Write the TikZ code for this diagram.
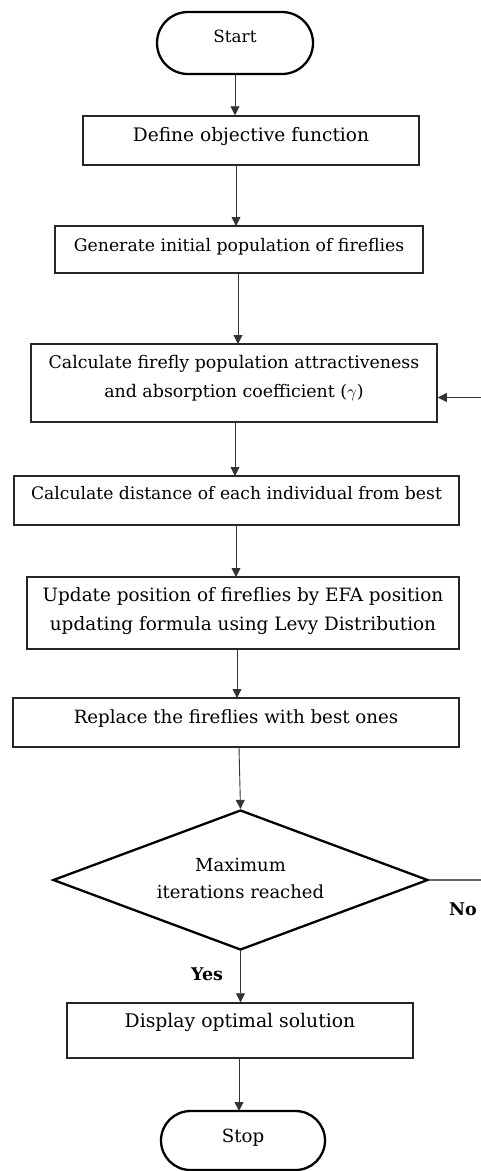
\documentclass[tikz,border=0pt]{standalone}
\usepackage{fontspec}
\setmainfont{DejaVu Serif}
\usetikzlibrary{shapes.geometric,shapes.misc,arrows.meta}
\tikzset{
  fsz/.style={font=\fontsize{#1}{28.5}\selectfont},
  box/.style={draw=black!85, line width=1.5pt, rectangle, inner sep=0pt, align=center, text height=13pt},
  frame/.style={draw=black!85, line width=1.5pt, rectangle, inner sep=0pt},
  txt/.style={inner sep=0pt, align=center},
  up/.style={text depth=#1},
  term/.style={draw=black, line width=2.3pt, rounded rectangle, inner sep=0pt, text height=13pt},
  dec/.style={draw=black, line width=2.3pt, diamond, inner sep=0pt},
  arr/.style={draw=black!80, line width=0.9pt, -{Triangle[length=9pt,width=9pt]}},
  plain/.style={draw=black!60, line width=1.2pt},
  lab/.style={font=\fontsize{17.5}{20}\selectfont\bfseries, inner sep=0pt}
}
\begin{document}
\begin{tikzpicture}[x=1pt,y=-1pt]
\useasboundingbox (0,0) rectangle (480,1171);
\node[term, fsz=16.8, up=14.8pt, minimum width=156pt, minimum height=62pt] (start) at (235,43) {Start};
\node[box, fsz=18.6, up=11.8pt, minimum width=336pt, minimum height=49pt] (define) at (251,140.5) {Define objective function};
\node[box, fsz=17.3, up=9.8pt, minimum width=368pt, minimum height=47pt] (gen) at (239,249.5) {Generate initial population of fireflies};
\node[frame, minimum width=406pt, minimum height=78pt] (calc) at (234,383) {};
\node[txt, fsz=17.4] (calcT) at (234,378.4) {Calculate firefly population attractiveness\\and absorption coefficient ($\gamma$)};
\node[box, fsz=17.2, up=15.8pt, minimum width=445pt, minimum height=49pt] (dist) at (236.5,500.5) {Calculate distance of each individual from best};
\node[frame, minimum width=432pt, minimum height=72pt] (upd) at (243,613) {};
\node[txt, fsz=18.4] (updT) at (243,611) {Update position of fireflies by EFA position\\updating formula using Levy Distribution};
\node[box, fsz=18.2, up=10.8pt, minimum width=446pt, minimum height=49pt] (repl) at (236,722.5) {Replace the fireflies with best ones};
\node[dec, minimum width=375pt, minimum height=140pt] (maxit) at (240.5,880) {};
\node[txt, font=\fontsize{18}{27}\selectfont] (maxitT) at (240.5,878) {Maximum\\iterations reached};
\node[box, fsz=18.8, up=19.8pt, minimum width=346pt, minimum height=55pt] (disp) at (240,1030.5) {Display optimal solution};
\node[term, fsz=18.2, up=9.8pt, minimum width=164pt, minimum height=59pt] (stop) at (243,1140.5) {Stop};
\node[lab] (yes) at (207,974) {Yes};
\node[lab] (no) at (463,909) {No};
\coordinate (noR) at (481,880);
\coordinate (fbR) at (481,397.5);
\draw[arr] (start.south) -- (start.south |- define.north);
\draw[arr] (236,165) -- (236,226);
\draw[arr] (238,273) -- (238,344);
\draw[arr] (235,422) -- (235,476);
\draw[arr] (236,525) -- (236,577);
\draw[arr] (237,649) -- (237,698);
\draw[arr] (239,747) -- (maxit.north);
\draw[arr] (maxit.south) -- (maxit.south |- disp.north);
\draw[arr] (239,1058) -- (239,1111);
\draw[plain] (maxit.east) -- (noR);
\draw[arr] (fbR) -- (fbR -| calc.east);
\end{tikzpicture}
\end{document}
